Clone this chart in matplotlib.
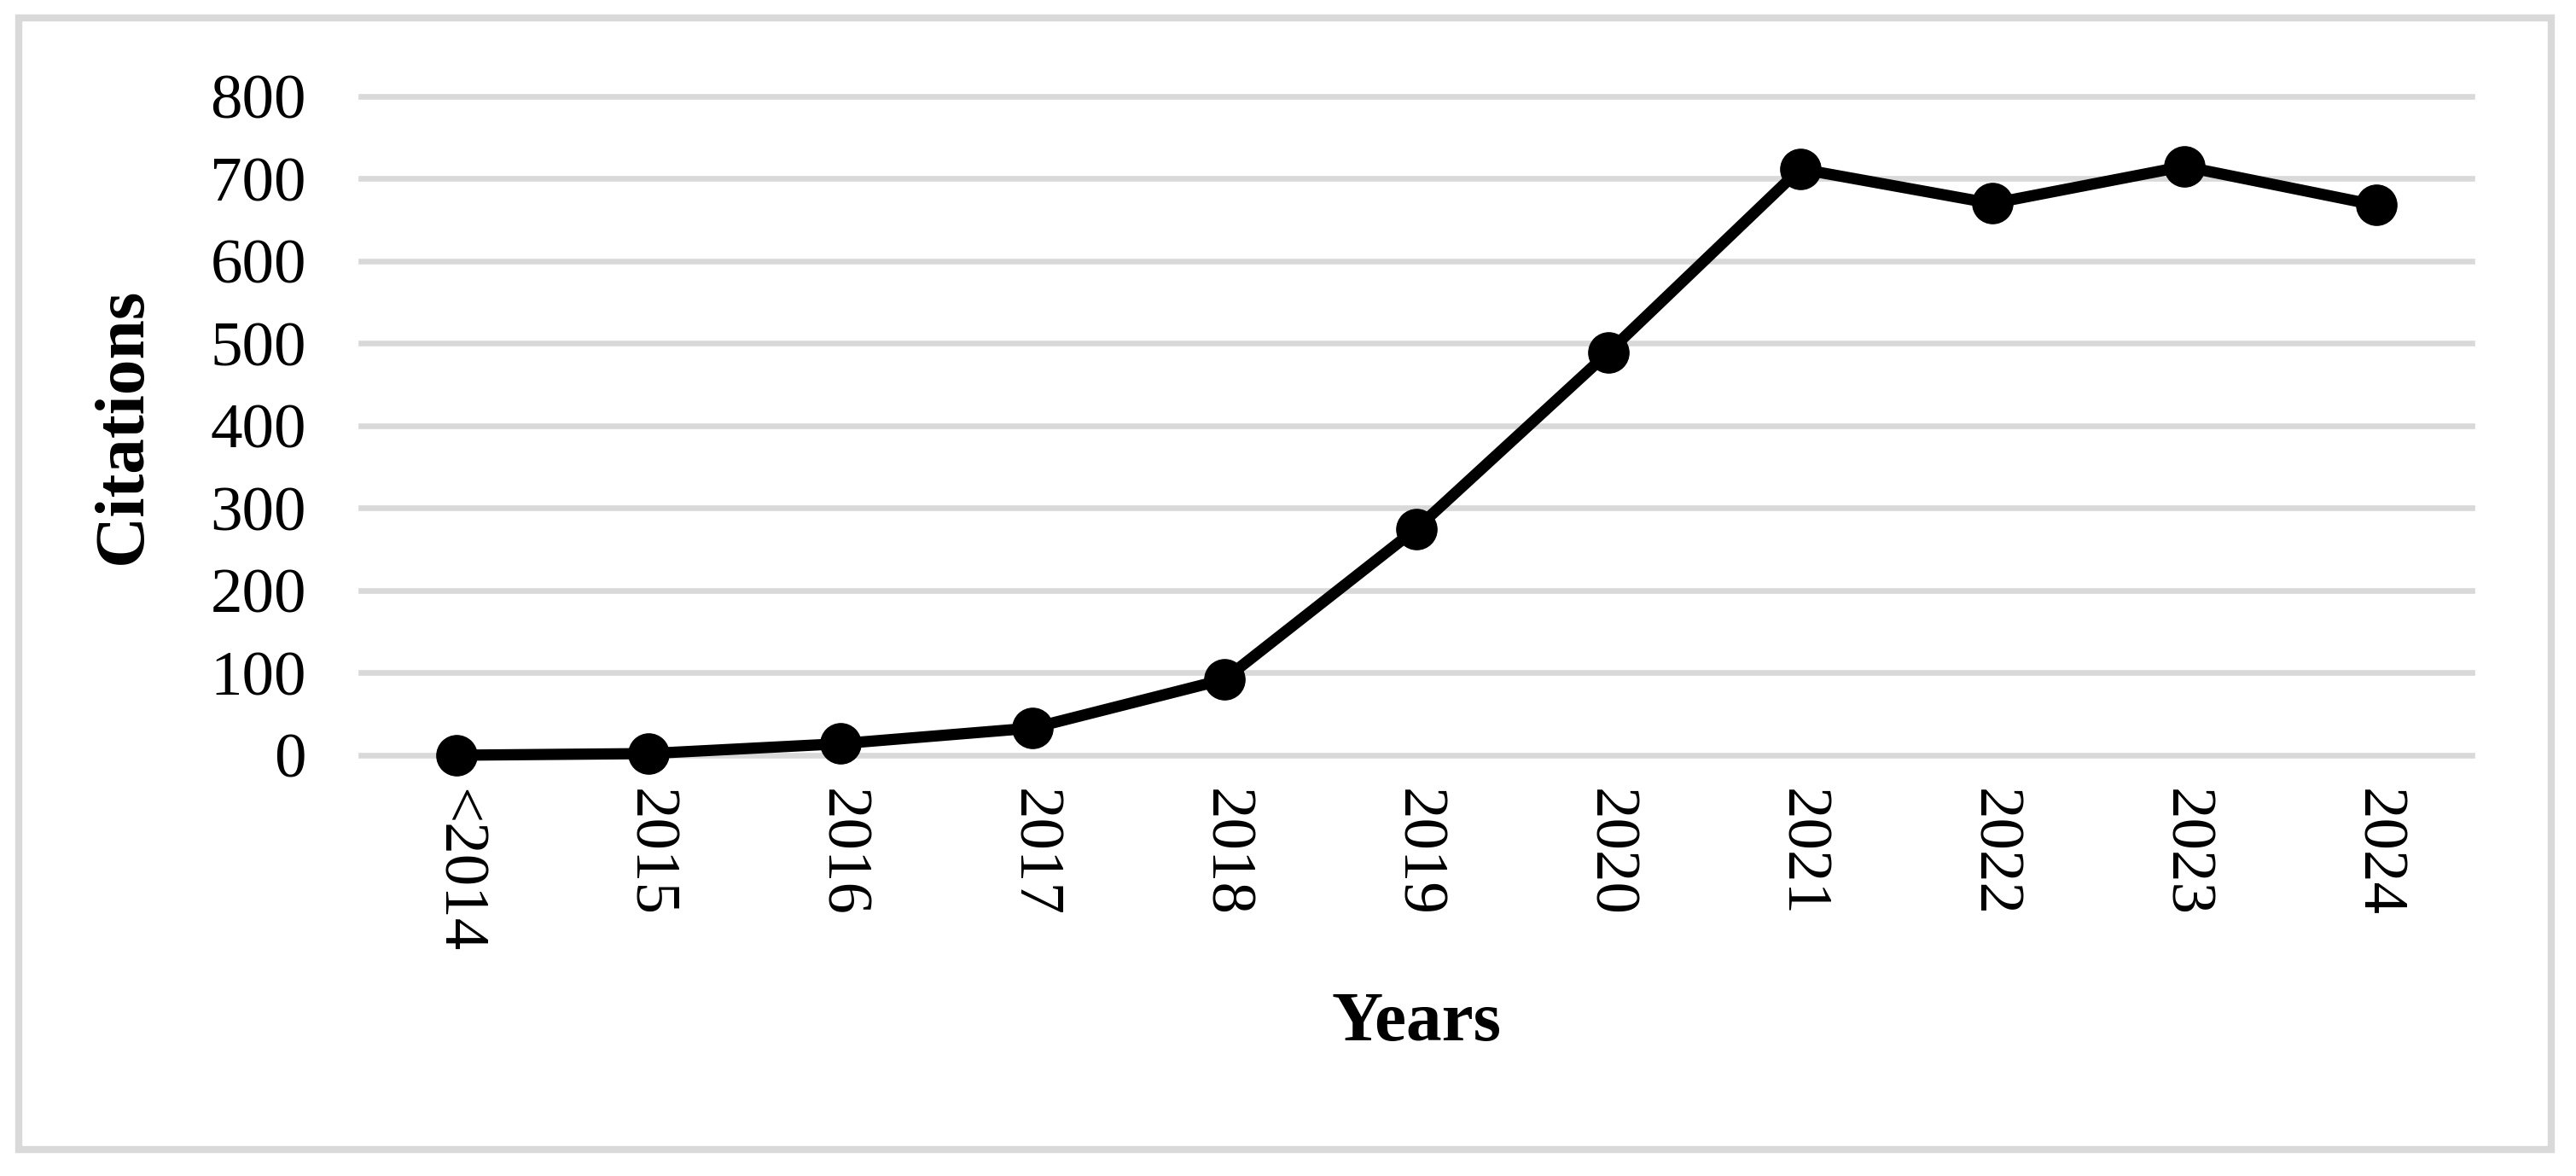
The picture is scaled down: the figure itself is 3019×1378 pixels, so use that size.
import matplotlib.pyplot as plt
from matplotlib.patches import Rectangle

years = ['<2014', '2015', '2016', '2017', '2018', '2019', '2020', '2021', '2022', '2023', '2024']
citations = [0, 2, 14, 33, 92, 275, 489, 712, 670, 715, 668]
y_ticks = [0, 100, 200, 300, 400, 500, 600, 700, 800]

plt.rcParams['font.family'] = ['Liberation Serif', 'DejaVu Serif']

fig = plt.figure(figsize=(30.19, 13.78), dpi=100)
ax = fig.add_axes([0.140, 0.3578, 0.8196, 0.5602])

# light grey frame round the whole chart
fig.patches.append(Rectangle((0.0073, 0.0225), 0.983, 0.962, transform=fig.transFigure,
                             fill=False, edgecolor='#d9d9d9', linewidth=6))

x = range(len(years))
ax.plot(x, citations, color='black', linewidth=9.5, marker='o', markersize=34,
        clip_on=False, zorder=3)

ax.set_xlim(-0.5, len(years) - 0.5)
ax.set_ylim(0, 800)
ax.set_yticks(y_ticks)
ax.set_xticks(list(x))
ax.set_xticklabels(years, rotation=270)

ax.grid(axis='y', color='#d9d9d9', linewidth=4.8)
ax.set_axisbelow(True)
for gl in ax.get_ygridlines():
    gl.set_clip_on(False)

for s in ax.spines.values():
    s.set_visible(False)
ax.tick_params(axis='both', length=0, labelsize=54)
ax.tick_params(axis='y', pad=46)
ax.tick_params(axis='x', pad=28)

ax.set_ylabel('Citations', fontsize=60, fontweight='bold')
ax.yaxis.set_label_coords(-0.097, 0.5)
ax.set_xlabel('Years', fontsize=60, fontweight='bold', va='center')
ax.xaxis.set_label_coords(0.5, -0.407)

fig.savefig('out.png', dpi=100)
